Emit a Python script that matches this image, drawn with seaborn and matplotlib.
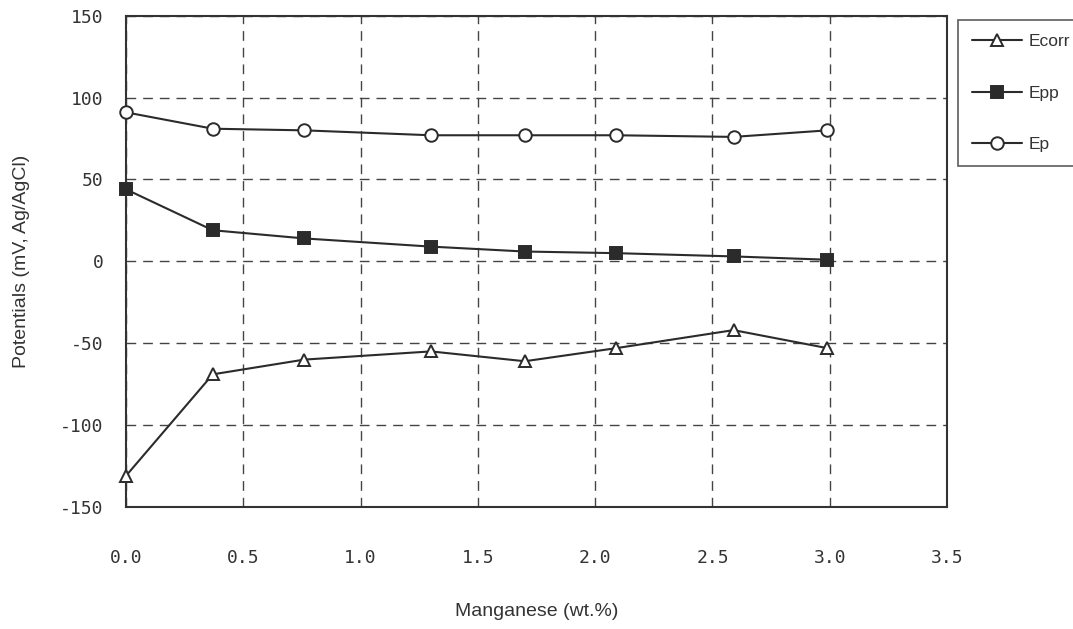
import numpy as np
import pandas as pd
import matplotlib
matplotlib.use("Agg")
import matplotlib.pyplot as plt
import seaborn as sns
from matplotlib.ticker import MultipleLocator

manganese = [0.0, 0.37, 0.76, 1.30, 1.70, 2.09, 2.59, 2.99]
ecorr = [-131, -69, -60, -55, -61, -53, -42, -53]
epp = [44, 19, 14, 9, 6, 5, 3, 1]
ep = [91, 81, 80, 77, 77, 77, 76, 80]
series_names = ["Ecorr", "Epp", "Ep"]
x_ticks = [0.0, 0.5, 1.0, 1.5, 2.0, 2.5, 3.0, 3.5]
y_ticks = [-150, -100, -50, 0, 50, 100, 150]

sns.set_style("white")
plt.rcParams['font.family'] = ['Liberation Sans', 'DejaVu Sans']

fig = plt.figure(figsize=(10.73, 6.29), dpi=100)
ax = fig.add_axes([0.1174, 0.194, 0.7652, 0.781])

line_color = "#2b2b2b"
styles = {
    "Ecorr": dict(marker="^", markerfacecolor="white"),
    "Epp": dict(marker="s", markerfacecolor="#2b2b2b"),
    "Ep": dict(marker="o", markerfacecolor="white"),
}
data = {"Ecorr": ecorr, "Epp": epp, "Ep": ep}

for name in series_names:
    df = pd.DataFrame({"x": manganese, "y": data[name]})
    sns.lineplot(data=df, x="x", y="y", ax=ax, color=line_color, linewidth=1.5,
                 markersize=9, markeredgecolor=line_color, markeredgewidth=1.4,
                 label=name, clip_on=False, zorder=3, **styles[name])

ax.set_xlim(0, 3.5)
ax.set_ylim(-150, 150)
ax.set_xticks(x_ticks)
ax.set_yticks(y_ticks)
ax.set_xticklabels([f"{v:.1f}" for v in x_ticks])
ax.set_yticklabels([str(v) for v in y_ticks])
ax.xaxis.set_minor_locator(MultipleLocator(0.1))
ax.yaxis.set_minor_locator(MultipleLocator(10))

ax.grid(True, which="major", linestyle=(0, (7, 5)), color="#444444", linewidth=1.0)
ax.tick_params(axis="both", which="major", direction="in", length=10, width=1.0,
               colors="#333333", labelcolor="#333333")
ax.tick_params(axis="both", which="minor", direction="in", length=5, width=1.0, colors="#333333")
ax.tick_params(axis="x", which="major", pad=30)
ax.tick_params(axis="y", which="major", pad=16)
mono = ['DejaVu Sans Mono']
for lab in ax.get_xticklabels() + ax.get_yticklabels():
    lab.set_family(mono)
    lab.set_fontsize(13)
for sp in ax.spines.values():
    sp.set_color("#333333")
    sp.set_linewidth(1.5)

ax.set_xlabel("Manganese (wt.%)", fontsize=14, color="#333333", labelpad=26)
ax.set_ylabel("Potentials (mV, Ag/AgCl)", fontsize=14, color="#333333", labelpad=22)

handles, labels = ax.get_legend_handles_labels()
ax.legend(handles, labels, loc="upper left", bbox_to_anchor=(0.893, 0.968),
          bbox_transform=fig.transFigure, frameon=True, fancybox=False,
          edgecolor="#333333", fontsize=12.5, handlelength=2.9, labelspacing=2.1,
          borderpad=0.8, handletextpad=0.35, borderaxespad=0)
leg = ax.get_legend()
leg.get_frame().set_linewidth(1.2)
for t in leg.get_texts():
    t.set_color("#333333")

fig.savefig("out.png", dpi=100)
